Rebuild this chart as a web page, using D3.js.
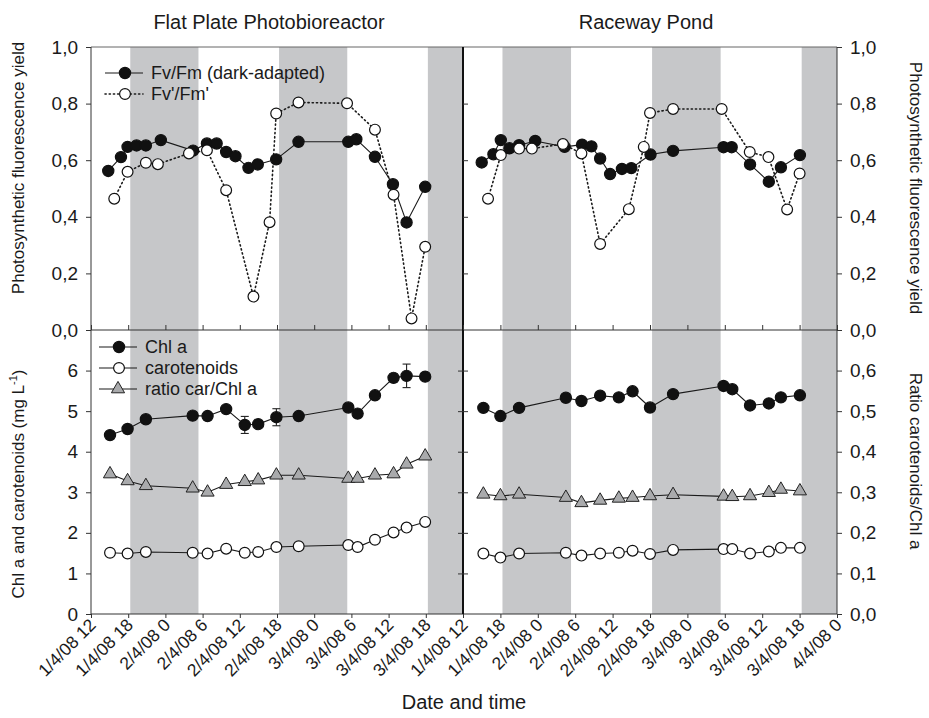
<!DOCTYPE html>
<html>
<head>
<meta charset="utf-8">
<script src="https://cdn.jsdelivr.net/npm/d3@7"></script>
<style>
    body { margin: 0; background: #fff; }
    text { font-family: Arial, "Liberation Sans", Helvetica, sans-serif; fill: #1a1a1a; }
</style>
</head>
<body>
<svg id="chart" width="929" height="718"></svg>
<script>
// ---- data (times are 2008, month-day hour:minute) ----
var timeDomain = ["04-01 12:00", "04-04 00:00"];
var nightStart = ["04-01 18:20", "04-02 18:20", "04-03 18:20"];
var nightEnd = ["04-02 05:20", "04-03 05:20", "04-04 05:20"];

var leftTicks = ["04-01 12:00", "04-01 18:00", "04-02 00:00", "04-02 06:00", "04-02 12:00", "04-02 18:00",
    "04-03 00:00", "04-03 06:00", "04-03 12:00", "04-03 18:00", "04-04 00:00"];
var leftTickLabels = ["1/4/08 12", "1/4/08 18", "2/4/08 0", "2/4/08 6", "2/4/08 12", "2/4/08 18",
    "3/4/08 0", "3/4/08 6", "3/4/08 12", "3/4/08 18", "1/4/08 12"];
var rightTicks = ["04-01 18:00", "04-02 00:00", "04-02 06:00", "04-02 12:00", "04-02 18:00",
    "04-03 00:00", "04-03 06:00", "04-03 12:00", "04-03 18:00", "04-04 00:00"];
var rightTickLabels = ["1/4/08 18", "2/4/08 0", "2/4/08 6", "2/4/08 12", "2/4/08 18",
    "3/4/08 0", "3/4/08 6", "3/4/08 12", "3/4/08 18", "4/4/08 0"];

// Flat plate photobioreactor - fluorescence
var fppFvTime = ["04-01 14:47", "04-01 16:50", "04-01 17:54", "04-01 19:21", "04-01 20:51", "04-01 23:16",
    "04-02 04:28", "04-02 06:42", "04-02 08:16", "04-02 09:48", "04-02 11:18", "04-02 13:24", "04-02 14:54",
    "04-02 17:52", "04-02 21:28", "04-03 05:30", "04-03 06:48", "04-03 09:48", "04-03 12:42", "04-03 14:54",
    "04-03 17:54"];
var fppFvFm = [0.562, 0.611, 0.647, 0.652, 0.652, 0.671, 0.634, 0.659, 0.659, 0.629, 0.614, 0.573, 0.585,
    0.603, 0.665, 0.665, 0.674, 0.612, 0.515, 0.380, 0.506];
var fppFqTime = ["04-01 15:45", "04-01 17:54", "04-01 20:51", "04-01 22:47", "04-02 03:48", "04-02 06:42",
    "04-02 09:48", "04-02 14:12", "04-02 16:48", "04-02 17:52", "04-02 21:28", "04-03 05:18", "04-03 09:48",
    "04-03 12:48", "04-03 15:42", "04-03 17:54"];
var fppFqFm = [0.464, 0.559, 0.591, 0.586, 0.624, 0.635, 0.494, 0.118, 0.381, 0.765, 0.804, 0.801, 0.708,
    0.478, 0.041, 0.294];

// Raceway pond - fluorescence
var rwFvTime = ["04-01 15:00", "04-01 16:53", "04-01 18:04", "04-01 19:27", "04-01 21:00", "04-01 23:35",
    "04-02 04:18", "04-02 07:06", "04-02 08:36", "04-02 10:00", "04-02 11:36", "04-02 13:30", "04-02 15:00",
    "04-02 18:05", "04-02 21:42", "04-03 05:48", "04-03 07:06", "04-03 10:03", "04-03 13:04", "04-03 15:00",
    "04-03 18:03"];
var rwFvFm = [0.592, 0.621, 0.671, 0.642, 0.653, 0.668, 0.647, 0.655, 0.649, 0.606, 0.551, 0.569, 0.572,
    0.620, 0.633, 0.646, 0.646, 0.585, 0.524, 0.575, 0.618];
var rwFqTime = ["04-01 16:01", "04-01 18:04", "04-01 21:00", "04-01 23:03", "04-02 04:02", "04-02 07:00",
    "04-02 10:00", "04-02 14:36", "04-02 17:00", "04-02 18:00", "04-02 21:42", "04-03 05:30", "04-03 10:00",
    "04-03 13:00", "04-03 16:00", "04-03 18:00"];
var rwFqFm = [0.464, 0.618, 0.641, 0.641, 0.657, 0.624, 0.304, 0.427, 0.647, 0.767, 0.781, 0.781, 0.629,
    0.611, 0.426, 0.553];

// Flat plate photobioreactor - pigments
var fppPigTime = ["04-01 15:04", "04-01 17:54", "04-01 20:51", "04-02 04:24", "04-02 06:48", "04-02 09:48",
    "04-02 12:48", "04-02 14:58", "04-02 17:54", "04-02 21:30", "04-03 05:30", "04-03 07:00", "04-03 09:48",
    "04-03 12:48", "04-03 14:54", "04-03 17:54"];
var fppChl = [4.41, 4.56, 4.80, 4.89, 4.88, 5.05, 4.66, 4.68, 4.85, 4.88, 5.09, 4.94, 5.39, 5.82, 5.87, 5.85];
var fppChlErr = [0.05, 0.05, 0.05, 0.05, 0.05, 0.05, 0.21, 0.05, 0.21, 0.05, 0.05, 0.05, 0.05, 0.10, 0.29, 0.05];
var fppCar = [1.51, 1.49, 1.53, 1.51, 1.49, 1.61, 1.51, 1.53, 1.65, 1.67, 1.70, 1.65, 1.83, 2.01, 2.13, 2.27];
var fppRatio = [0.345, 0.328, 0.316, 0.310, 0.300, 0.319, 0.326, 0.330, 0.342, 0.342, 0.334, 0.334, 0.342,
    0.345, 0.369, 0.389];

// Raceway pond - pigments
var rwPigTime = ["04-01 15:16", "04-01 18:00", "04-01 21:00", "04-02 04:30", "04-02 07:00", "04-02 10:00",
    "04-02 13:00", "04-02 15:12", "04-02 18:00", "04-02 21:42", "04-03 05:48", "04-03 07:12", "04-03 10:03",
    "04-03 13:04", "04-03 15:00", "04-03 18:03"];
var rwChl = [5.08, 4.88, 5.08, 5.33, 5.25, 5.38, 5.34, 5.49, 5.09, 5.42, 5.62, 5.54, 5.14, 5.19, 5.34, 5.39];
var rwCar = [1.49, 1.39, 1.49, 1.51, 1.44, 1.49, 1.51, 1.56, 1.48, 1.58, 1.60, 1.60, 1.49, 1.54, 1.63, 1.63];
var rwRatio = [0.295, 0.291, 0.295, 0.287, 0.274, 0.280, 0.285, 0.287, 0.291, 0.294, 0.290, 0.289, 0.291,
    0.299, 0.307, 0.303];

// ---- layout ----
var xL = 91, xM = 463, xR = 837,
    yT = 47, yMid = 330, yB = 614;

var parseTime = d3.timeParse("%Y-%m-%d %H:%M");
function tm(s) { return parseTime("2008-" + s); }

var comma = d3.formatLocale({decimal: ",", thousands: ".", grouping: [3], currency: ["", ""]});

var svg = d3.select("#chart");

var xLeft = d3.scaleTime().domain(timeDomain.map(tm)).range([xL, xM]);
var xRight = d3.scaleTime().domain(timeDomain.map(tm)).range([xM, xR]);
var yFluo = d3.scaleLinear().domain([0, 1]).range([yMid, yT]);
var yPig = d3.scaleLinear().domain([0, 7]).range([yB, yMid]);
var yRatio = d3.scaleLinear().domain([0, 0.7]).range([yB, yMid]);

// Night bands
[xLeft, xRight].forEach(function (x) {
    var r = x.range();
    nightStart.forEach(function (s, i) {
        var a = Math.max(r[0], x(tm(s))),
            b = Math.min(r[1], x(tm(nightEnd[i])));
        svg.append("rect")
            .attr("x", a).attr("y", yT)
            .attr("width", b - a).attr("height", yB - yT)
            .attr("fill", "#c6c7c9");
    });
});

// Frame
var frame = svg.append("g").attr("stroke", "#333").attr("fill", "none");
frame.append("line").attr("x1", xL).attr("x2", xR).attr("y1", yT).attr("y2", yT).attr("stroke", "#666");
frame.append("line").attr("x1", xL).attr("x2", xR).attr("y1", yMid).attr("y2", yMid);
frame.append("line").attr("x1", xL).attr("x2", xR).attr("y1", yB).attr("y2", yB);
frame.append("line").attr("x1", xL).attr("x2", xL).attr("y1", yT).attr("y2", yB);
frame.append("line").attr("x1", xR).attr("x2", xR).attr("y1", yT).attr("y2", yB);
frame.append("line").attr("x1", xM).attr("x2", xM).attr("y1", yT).attr("y2", yB)
    .attr("stroke", "#111").attr("stroke-width", 2);

// Y axes
function styleAxis(g) {
    g.select(".domain").remove();
    g.selectAll(".tick line").attr("stroke", "#333");
    g.selectAll(".tick text").attr("font-size", 19).attr("fill", "#1a1a1a")
        .attr("font-family", "Arial, 'Liberation Sans', sans-serif");
}
var fluoTicks = [0, 0.2, 0.4, 0.6, 0.8, 1.0];
svg.append("g").attr("transform", "translate(" + xL + ",0)")
    .call(d3.axisLeft(yFluo).tickValues(fluoTicks).tickSize(5).tickPadding(8).tickFormat(comma.format(".1f")))
    .call(styleAxis);
svg.append("g").attr("transform", "translate(" + xR + ",0)")
    .call(d3.axisRight(yFluo).tickValues(fluoTicks).tickSize(5).tickPadding(8).tickFormat(comma.format(".1f")))
    .call(styleAxis);
svg.append("g").attr("transform", "translate(" + xM + ",0)")
    .call(d3.axisRight(yFluo).tickValues(fluoTicks.slice(1, 5)).tickSize(5).tickFormat(""))
    .call(styleAxis);
svg.append("g").attr("transform", "translate(" + xL + ",0)")
    .call(d3.axisLeft(yPig).tickValues([0, 1, 2, 3, 4, 5, 6]).tickSize(5).tickPadding(8).tickFormat(d3.format("d")))
    .call(styleAxis);
svg.append("g").attr("transform", "translate(" + xR + ",0)")
    .call(d3.axisRight(yRatio).tickValues([0, 0.1, 0.2, 0.3, 0.4, 0.5, 0.6]).tickSize(5).tickPadding(8).tickFormat(comma.format(".1f")))
    .call(styleAxis);
svg.append("g").attr("transform", "translate(" + xM + ",0)")
    .call(d3.axisLeft(yRatio).tickValues([0.1, 0.2, 0.3, 0.4, 0.5, 0.6]).tickSize(5).tickFormat(""))
    .call(styleAxis);
svg.append("g").attr("transform", "translate(" + xM + ",0)")
    .call(d3.axisRight(yRatio).tickValues([0.1, 0.2, 0.3, 0.4, 0.5, 0.6]).tickSize(5).tickFormat(""))
    .call(styleAxis);

// X axes (ticks only in the middle, labels at the bottom)
function xTicks(x, ticks, labels) {
    svg.append("g").attr("transform", "translate(0," + yMid + ")")
        .call(d3.axisTop(x).tickValues(ticks.map(tm)).tickSize(5).tickFormat(""))
        .call(styleAxis);
    svg.append("g").attr("transform", "translate(0," + yB + ")")
        .call(d3.axisBottom(x).tickValues(ticks.map(tm)).tickSize(4).tickFormat(""))
        .call(styleAxis);
    ticks.forEach(function (s, i) {
        svg.append("text")
            .attr("transform", "translate(" + (x(tm(s)) + 6) + "," + (yB + 12) + ") rotate(-45)")
            .attr("text-anchor", "end")
            .attr("font-size", 17.5)
            .text(labels[i]);
    });
}
xTicks(xLeft, leftTicks, leftTickLabels);
xTicks(xRight, rightTicks, rightTickLabels);

// Series drawing helpers
function drawLine(x, y, times, vals, dotted) {
    var pts = times.map(function (s, i) { return [x(tm(s)), y(vals[i])]; });
    svg.append("path")
        .attr("d", d3.line()(pts))
        .attr("fill", "none")
        .attr("stroke", "#1a1a1a")
        .attr("stroke-width", dotted ? 1.6 : 1.1)
        .attr("stroke-dasharray", dotted ? "1.2,3" : null)
        .attr("stroke-linecap", dotted ? "round" : null);
}
function drawCircles(x, y, times, vals, filled) {
    svg.append("g").selectAll("circle")
        .data(vals).enter().append("circle")
        .attr("cx", function (d, i) { return x(tm(times[i])); })
        .attr("cy", function (d) { return y(d); })
        .attr("r", filled ? 5.6 : 5.4)
        .attr("fill", filled ? "#111" : "#fff")
        .attr("stroke", "#111")
        .attr("stroke-width", 1.2);
}
function drawTriangles(x, y, times, vals) {
    svg.append("g").selectAll("path")
        .data(vals).enter().append("path")
        .attr("d", d3.symbol().type(d3.symbolTriangle).size(75))
        .attr("transform", function (d, i) { return "translate(" + x(tm(times[i])) + "," + y(d) + ")"; })
        .attr("fill", "#a9aaac")
        .attr("stroke", "#222")
        .attr("stroke-width", 1);
}
function drawErrors(x, y, times, vals, errs) {
    var g = svg.append("g").attr("stroke", "#222").attr("stroke-width", 1.1);
    vals.forEach(function (v, i) {
        var cx = x(tm(times[i])), y0 = y(v - errs[i]), y1 = y(v + errs[i]);
        g.append("line").attr("x1", cx).attr("x2", cx).attr("y1", y0).attr("y2", y1);
        g.append("line").attr("x1", cx - 4).attr("x2", cx + 4).attr("y1", y0).attr("y2", y0);
        g.append("line").attr("x1", cx - 4).attr("x2", cx + 4).attr("y1", y1).attr("y2", y1);
    });
}

// Top panels
drawLine(xLeft, yFluo, fppFqTime, fppFqFm, true);
drawLine(xLeft, yFluo, fppFvTime, fppFvFm, false);
drawCircles(xLeft, yFluo, fppFvTime, fppFvFm, true);
drawCircles(xLeft, yFluo, fppFqTime, fppFqFm, false);

drawLine(xRight, yFluo, rwFqTime, rwFqFm, true);
drawLine(xRight, yFluo, rwFvTime, rwFvFm, false);
drawCircles(xRight, yFluo, rwFvTime, rwFvFm, true);
drawCircles(xRight, yFluo, rwFqTime, rwFqFm, false);

// Bottom panels
drawLine(xLeft, yPig, fppPigTime, fppChl, false);
drawLine(xLeft, yPig, fppPigTime, fppCar, false);
drawLine(xLeft, yRatio, fppPigTime, fppRatio, false);
drawErrors(xLeft, yPig, fppPigTime, fppChl, fppChlErr);
drawCircles(xLeft, yPig, fppPigTime, fppChl, true);
drawCircles(xLeft, yPig, fppPigTime, fppCar, false);
drawTriangles(xLeft, yRatio, fppPigTime, fppRatio);

drawLine(xRight, yPig, rwPigTime, rwChl, false);
drawLine(xRight, yPig, rwPigTime, rwCar, false);
drawLine(xRight, yRatio, rwPigTime, rwRatio, false);
drawCircles(xRight, yPig, rwPigTime, rwChl, true);
drawCircles(xRight, yPig, rwPigTime, rwCar, false);
drawTriangles(xRight, yRatio, rwPigTime, rwRatio);

// Legends
function legendRow(x0, y0, kind, label, dotted) {
    svg.append("line").attr("x1", x0).attr("x2", x0 + 38).attr("y1", y0).attr("y2", y0)
        .attr("stroke", "#1a1a1a").attr("stroke-width", dotted ? 1.6 : 1.1)
        .attr("stroke-dasharray", dotted ? "1.2,3" : null)
        .attr("stroke-linecap", dotted ? "round" : null);
    if (kind === "tri") {
        svg.append("path").attr("d", d3.symbol().type(d3.symbolTriangle).size(75)())
            .attr("transform", "translate(" + (x0 + 19) + "," + y0 + ")")
            .attr("fill", "#a9aaac").attr("stroke", "#222");
    } else {
        svg.append("circle").attr("cx", x0 + 20).attr("cy", y0).attr("r", kind === "filled" ? 5.6 : 5.4)
            .attr("fill", kind === "filled" ? "#111" : "#fff").attr("stroke", "#111").attr("stroke-width", 1.2);
    }
    svg.append("text").attr("x", x0 + 46).attr("y", y0).attr("dy", "0.35em")
        .attr("font-size", 18).text(label);
}
legendRow(105, 73, "filled", "Fv/Fm (dark-adapted)", false);
legendRow(105, 94, "open", "Fv'/Fm'", true);
legendRow(99, 347, "filled", "Chl a", false);
legendRow(99, 368, "open", "carotenoids", false);
legendRow(99, 389, "tri", "ratio car/Chl a", false);

// Titles and axis labels
svg.append("text").attr("x", 269).attr("y", 29).attr("text-anchor", "middle")
    .attr("font-size", 20).text("Flat Plate Photobioreactor");
svg.append("text").attr("x", 646).attr("y", 29).attr("text-anchor", "middle")
    .attr("font-size", 20).text("Raceway Pond");
svg.append("text").attr("x", 464).attr("y", 709).attr("text-anchor", "middle")
    .attr("font-size", 20).text("Date and time");

svg.append("text").attr("transform", "translate(24,168) rotate(-90)").attr("text-anchor", "middle")
    .attr("font-size", 17).text("Photosynthetic fluorescence yield");
var chlLabel = svg.append("text").attr("transform", "translate(24,484) rotate(-90)").attr("text-anchor", "middle")
    .attr("font-size", 17);
chlLabel.append("tspan").text("Chl a and carotenoids (mg L");
chlLabel.append("tspan").attr("font-size", 11).attr("dy", -7).text("-1");
chlLabel.append("tspan").attr("dy", 7).text(")");

svg.append("text").attr("transform", "translate(910,188) rotate(90)").attr("text-anchor", "middle")
    .attr("font-size", 17).text("Photosynthetic fluorescence yield");
svg.append("text").attr("transform", "translate(910,461) rotate(90)").attr("text-anchor", "middle")
    .attr("font-size", 17).text("Ratio carotenoids/Chl a");
</script>
</body>
</html>
